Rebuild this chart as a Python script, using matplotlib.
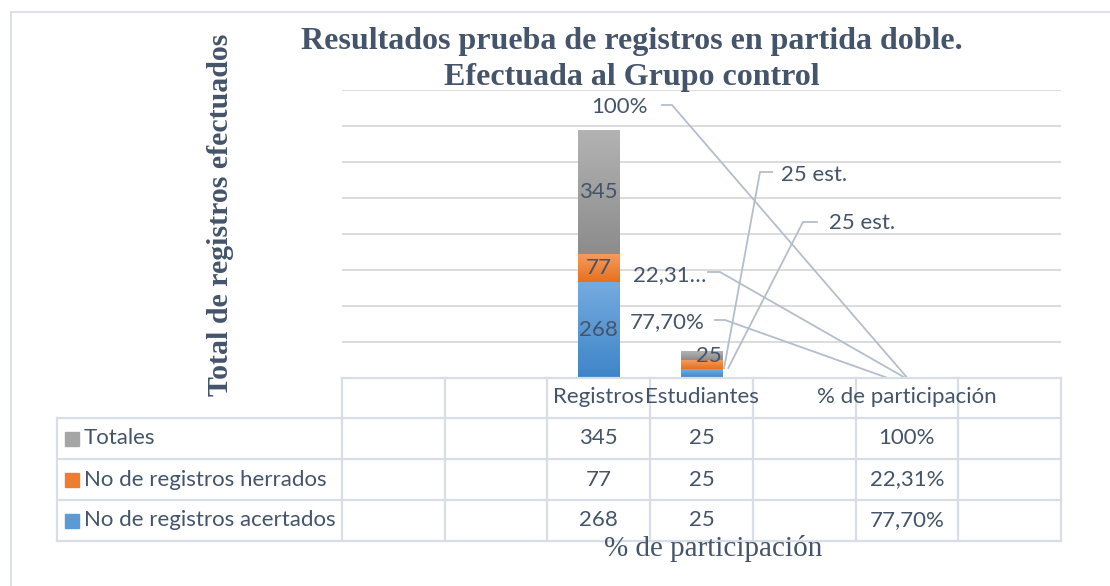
import numpy as np
import matplotlib.pyplot as plt
from matplotlib.colors import LinearSegmentedColormap
from matplotlib.patches import Rectangle
from matplotlib.lines import Line2D

# datos del grafico
categorias = ['', '', 'Registros', 'Estudiantes', '', '% de participación', '']
series = ['Totales', 'No de registros herrados', 'No de registros acertados']
acertados = [0, 0, 268, 25, 0, 0.777, 0]
herrados = [0, 0, 77, 25, 0, 0.2231, 0]
totales = [0, 0, 345, 25, 0, 1.0, 0]
texto_acertados = ['', '', '268', '25', '', '77,70%', '']
texto_herrados = ['', '', '77', '25', '', '22,31%', '']
texto_totales = ['', '', '345', '25', '', '100%', '']

W, H = 1110, 586
TXT = '#44546A'
LINEA = '#D9DEE6'
SANS = ['Lato', 'DejaVu Sans']
SERIF = ['Liberation Serif', 'DejaVu Serif']
FS = 16

gris = LinearSegmentedColormap.from_list('g', ['#8C8C8C', '#B3B3B3'])
naranja = LinearSegmentedColormap.from_list('o', ['#E6711E', '#F59A5C'])
azul = LinearSegmentedColormap.from_list('a', ['#3E85C7', '#75ABE0'])


def fx(px):
    return px / W


def fy(py):
    return 1 - py / H


def degradado(ax, barras, cmap):
    grad = np.linspace(0, 1, 64).reshape(-1, 1)
    for r in barras:
        if r.get_height() <= 0:
            continue
        x0, y0 = r.get_x(), r.get_y()
        im = ax.imshow(grad, extent=[x0, x0 + r.get_width(), y0, y0 + r.get_height()],
                       origin='lower', cmap=cmap, aspect='auto', zorder=2)
        im.set_clip_path(r)
        r.set_facecolor('none')


fig = plt.figure(figsize=(W / 100, H / 100), dpi=100)
ax = fig.add_axes([fx(342), fy(378), 719 / W, 288 / H])

x = np.arange(len(categorias))
a = np.array(acertados)
h = np.array(herrados)
t = np.array(totales)
b1 = ax.bar(x, a, 0.4, color='#5B9BD5', linewidth=0, zorder=2)
b2 = ax.bar(x, h, 0.4, bottom=a, color='#ED7D31', linewidth=0, zorder=2)
b3 = ax.bar(x, t, 0.4, bottom=a + h, color='#A5A5A5', linewidth=0, zorder=2)
degradado(ax, b1, azul)
degradado(ax, b2, naranja)
degradado(ax, b3, gris)

ax.set_xlim(-0.5, len(categorias) - 0.5)
ax.set_ylim(0, 800)
ax.set_yticks(np.arange(0, 801, 100))
ax.grid(axis='y', color='#D9D9D9', lw=1.3, zorder=0)
ax.set_axisbelow(True)
ax.tick_params(left=False, bottom=False, labelleft=False, labelbottom=False)
for s in ax.spines.values():
    s.set_visible(False)

# etiquetas dentro de la barra Registros
i = categorias.index('Registros')
ax.text(i, a[i] / 2, texto_acertados[i], ha='center', va='center', fontsize=FS, color=TXT, family=SANS, zorder=3)
ax.text(i, a[i] + h[i] / 2, texto_herrados[i], ha='center', va='center', fontsize=FS, color=TXT, family=SANS, zorder=3)
ax.text(i, a[i] + h[i] + t[i] / 2, texto_totales[i], ha='center', va='center', fontsize=FS, color=TXT, family=SANS, zorder=3)

j = categorias.index('Estudiantes')
ax.text(j + 0.07, a[j] + h[j] + t[j] / 2, texto_totales[j], ha='center', va='center', fontsize=FS,
        color=TXT, family=SANS, zorder=3)

# etiquetas con lineas guia
k = categorias.index('% de participación')
guias = [
    (texto_totales[k], k, 0.0, a[k] + h[k] + t[k] / 2, (648, 107), 'right', [(662, 105), (672, 105)]),
    (texto_herrados[k][:5] + '…', k, -0.02, a[k] + h[k] / 2, (706, 275), 'right', [(708, 272), (720, 272)]),
    (texto_acertados[k], k, -0.19, a[k] / 2, (705, 322), 'right', [(715, 320), (725, 320)]),
    (texto_herrados[j] + ' est.', j, 0.22, a[j] / 2 + 15, (781, 175), 'left', [(772, 172), (760, 172)]),
    (texto_acertados[j] + ' est.', j, 0.26, a[j] / 2 + 15, (829, 223), 'left', [(817, 222), (803, 222)]),
]
to_fig = fig.transFigure.inverted()
for txt, c, dx, yv, (tx, ty), ha, codo in guias:
    fig.text(fx(tx), fy(ty), txt, ha=ha, va='center', fontsize=FS, color=TXT, family=SANS)
    ancla = to_fig.transform(ax.transData.transform((c + dx, yv)))
    xs = [fx(p[0]) for p in codo] + [ancla[0]]
    ys = [fy(p[1]) for p in codo] + [ancla[1]]
    fig.add_artist(Line2D(xs, ys, color='#B4BECB', lw=1.3, transform=fig.transFigure))

# tabla de datos
col0, ancho = 342, 719 / len(categorias)
filas = [378, 418, 459, 500, 541]
fig.add_artist(Line2D([fx(col0), fx(1061)], [fy(378), fy(378)], color=LINEA, lw=1.6))
for yy in filas[1:]:
    fig.add_artist(Line2D([fx(57), fx(1061)], [fy(yy), fy(yy)], color=LINEA, lw=1.6))
fig.add_artist(Line2D([fx(57), fx(57)], [fy(418), fy(541)], color=LINEA, lw=1.6))
for c in range(len(categorias) + 1):
    xx = col0 + c * ancho
    fig.add_artist(Line2D([fx(xx), fx(xx)], [fy(378), fy(541)], color=LINEA, lw=1.6))

for c, nombre in enumerate(categorias):
    fig.text(fx(col0 + (c + 0.5) * ancho), fy(397), nombre, ha='center', va='center',
             fontsize=FS, color=TXT, family=SANS)

textos = [texto_totales, texto_herrados, texto_acertados]
colores = ['#A5A5A5', '#ED7D31', '#5B9BD5']
for r, (nombre, vals, col) in enumerate(zip(series, textos, colores)):
    yc = (filas[r + 1] + filas[r + 2]) / 2
    fig.add_artist(Rectangle((fx(65), fy(yc + 7)), 14 / W, 14 / H, color=col, transform=fig.transFigure))
    fig.text(fx(84), fy(yc), nombre, ha='left', va='center', fontsize=FS, color=TXT, family=SANS)
    for c, v in enumerate(vals):
        fig.text(fx(col0 + (c + 0.5) * ancho), fy(yc), v, ha='center', va='center',
                 fontsize=FS, color=TXT, family=SANS)

# titulos
fig.text(fx(632), fy(42), 'Resultados prueba de registros en partida doble.', ha='center', va='center',
         fontsize=23, fontweight='bold', color=TXT, family=SERIF)
fig.text(fx(632), fy(78), 'Efectuada al Grupo control', ha='center', va='center',
         fontsize=23, fontweight='bold', color=TXT, family=SERIF)
fig.text(fx(221), fy(215), 'Total de registros efectuados', ha='center', va='center', rotation=90,
         fontsize=21.5, fontweight='bold', color=TXT, family=SERIF)
fig.text(fx(713), fy(548), '% de participación', ha='center', va='center',
         fontsize=21, color=TXT, family=SERIF)

# borde del area del grafico
fig.add_artist(Line2D([fx(11), fx(1110)], [fy(12), fy(12)], color=LINEA, lw=1.3))
fig.add_artist(Line2D([fx(11), fx(11)], [fy(12), fy(586)], color=LINEA, lw=1.3))

fig.savefig('out.png', dpi=100)
